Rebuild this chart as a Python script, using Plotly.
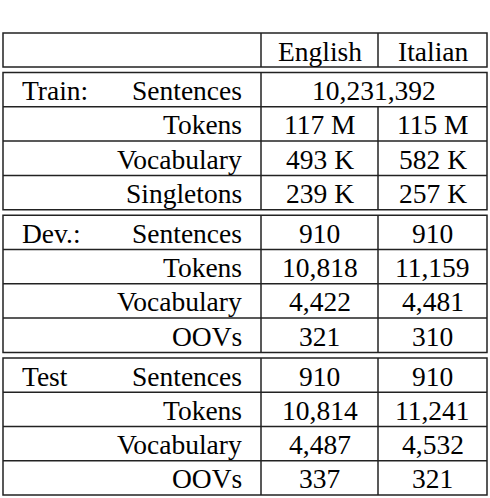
import plotly.graph_objects as go

columns = ["English", "Italian"]
sections = ["Train:", "Dev.:", "Test"]
row_labels = [
    ["Sentences", "Tokens", "Vocabulary", "Singletons"],
    ["Sentences", "Tokens", "Vocabulary", "OOVs"],
    ["Sentences", "Tokens", "Vocabulary", "OOVs"],
]
english = [
    ["10,231,392", "117 M", "493 K", "239 K"],
    ["910", "10,818", "4,422", "321"],
    ["910", "10,814", "4,487", "337"],
]
italian = [
    [None, "115 M", "582 K", "257 K"],
    ["910", "11,159", "4,481", "310"],
    ["910", "11,241", "4,532", "321"],
]

W, H = 490, 498
X0, X1, X2, X3 = 3, 261, 378, 487
HEAD_TOP, HEAD_BOT = 33, 67
SEC_TOP = [72.5, 215.2, 357.9]
RH = 34.3
LC = "#222222"
LW = 1.5
FONT = dict(family="Liberation Serif, Times New Roman, serif", size=27.5, color="black")

shapes, ann = [], []

def rect(y0, y1):
    shapes.append(dict(type="rect", x0=X0, x1=X3, y0=y0, y1=y1, line=dict(color=LC, width=LW)))

def hline(y):
    shapes.append(dict(type="line", x0=X0, x1=X3, y0=y, y1=y, line=dict(color=LC, width=LW)))

def vline(x, y0, y1):
    shapes.append(dict(type="line", x0=x, x1=x, y0=y0, y1=y1, line=dict(color=LC, width=LW)))

def text(x, y, s, anchor="center"):
    ann.append(dict(x=x, y=y, text=s, showarrow=False, xanchor=anchor, yanchor="middle", font=FONT))

rect(HEAD_TOP, HEAD_BOT)
vline(X1, HEAD_TOP, HEAD_BOT)
vline(X2, HEAD_TOP, HEAD_BOT)
ym = (HEAD_TOP + HEAD_BOT) / 2 + 1
text((X1 + X2) / 2, ym, columns[0])
text((X2 + X3) / 2, ym, columns[1])

for s, top in enumerate(SEC_TOP):
    n = len(row_labels[s])
    bot = top + n * RH
    rect(top, bot)
    vline(X1, top, bot)
    for i in range(n):
        y0 = top + i * RH
        y1 = y0 + RH
        if i > 0:
            hline(y0)
        yc = (y0 + y1) / 2 + 1
        if i == 0:
            text(20, yc, sections[s], "left")
        text(244, yc, row_labels[s][i], "right")
        if italian[s][i] is None:
            text((X1 + X3) / 2, yc, english[s][i])
        else:
            vline(X2, y0, y1)
            text((X1 + X2) / 2, yc, english[s][i])
            text((X2 + X3) / 2, yc, italian[s][i])

ann.append(dict(x=20, y=-6, text="of languages.", showarrow=False, xanchor="left", yanchor="middle",
                font=FONT))

fig = go.Figure()
fig.update_layout(
    width=W, height=H, margin=dict(l=0, r=0, t=0, b=0),
    paper_bgcolor="white", plot_bgcolor="white",
    xaxis=dict(range=[0, W], visible=False, fixedrange=True),
    yaxis=dict(range=[H, 0], visible=False, fixedrange=True),
    shapes=shapes, annotations=ann, showlegend=False,
)
fig.write_html("out.html", config={"displayModeBar": False},
               post_script="document.body.style.margin='0';document.body.style.overflow='hidden';")
